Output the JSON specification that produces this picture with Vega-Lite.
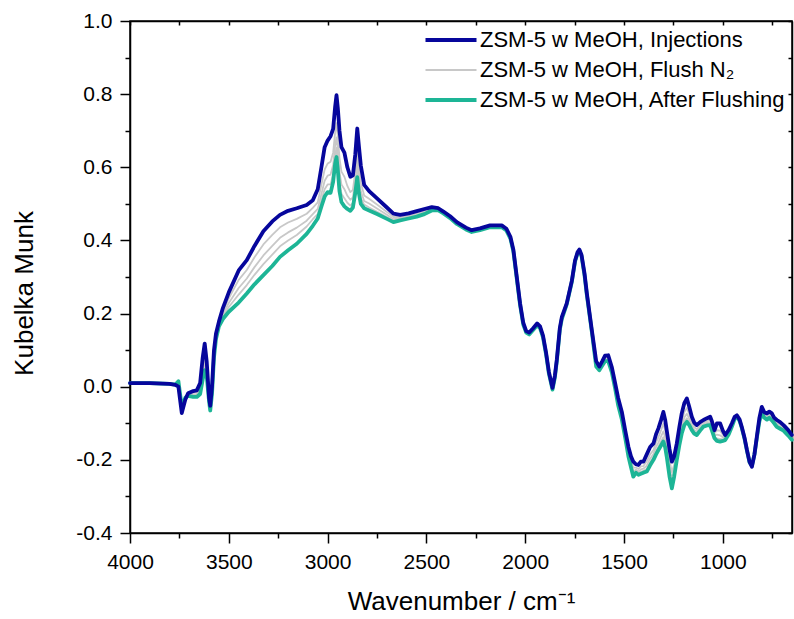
{
  "$schema": "https://vega.github.io/schema/vega-lite/v6.json",
  "width": 662,
  "height": 512,
  "autosize": "none",
  "padding": {"left": 130, "top": 21, "right": 2, "bottom": 86},
  "background": "white",
  "config": {
    "view": {"stroke": "black", "strokeWidth": 1.5},
    "font": "Liberation Sans",
    "axis": {"grid": false, "domainColor": "black", "tickColor": "black", "domainWidth": 1.5, "tickWidth": 1.5, "labelColor": "black", "titleColor": "black", "labelFont": "Liberation Sans", "titleFont": "Liberation Sans"}
  },
  "datasets": {
    "ftir": [
      {"w": 4000, "inj": 0.010, "g1": 0.010, "g2": 0.010, "g3": 0.010, "aft": 0.010},
      {"w": 3900, "inj": 0.010, "g1": 0.010, "g2": 0.010, "g3": 0.010, "aft": 0.010},
      {"w": 3800, "inj": 0.008, "g1": 0.008, "g2": 0.008, "g3": 0.008, "aft": 0.008},
      {"w": 3770, "inj": 0.005, "g1": 0.005, "g2": 0.006, "g3": 0.006, "aft": 0.006},
      {"w": 3755, "inj": 0.000, "g1": 0.005, "g2": 0.009, "g3": 0.012, "aft": 0.015},
      {"w": 3738, "inj": -0.072, "g1": -0.066, "g2": -0.062, "g3": -0.058, "aft": -0.055},
      {"w": 3720, "inj": -0.035, "g1": -0.033, "g2": -0.032, "g3": -0.031, "aft": -0.030},
      {"w": 3706, "inj": -0.018, "g1": -0.020, "g2": -0.022, "g3": -0.024, "aft": -0.025},
      {"w": 3680, "inj": -0.012, "g1": -0.017, "g2": -0.022, "g3": -0.025, "aft": -0.028},
      {"w": 3662, "inj": -0.010, "g1": -0.016, "g2": -0.021, "g3": -0.024, "aft": -0.028},
      {"w": 3645, "inj": 0.010, "g1": 0.000, "g2": -0.008, "g3": -0.014, "aft": -0.020},
      {"w": 3632, "inj": 0.080, "g1": 0.060, "g2": 0.044, "g3": 0.032, "aft": 0.020},
      {"w": 3622, "inj": 0.118, "g1": 0.094, "g2": 0.074, "g3": 0.060, "aft": 0.045},
      {"w": 3612, "inj": 0.070, "g1": 0.057, "g2": 0.046, "g3": 0.038, "aft": 0.030},
      {"w": 3600, "inj": -0.030, "g1": -0.033, "g2": -0.036, "g3": -0.038, "aft": -0.040},
      {"w": 3594, "inj": -0.052, "g1": -0.056, "g2": -0.060, "g3": -0.062, "aft": -0.065},
      {"w": 3585, "inj": 0.000, "g1": -0.007, "g2": -0.012, "g3": -0.016, "aft": -0.020},
      {"w": 3575, "inj": 0.100, "g1": 0.093, "g2": 0.088, "g3": 0.084, "aft": 0.080},
      {"w": 3565, "inj": 0.145, "g1": 0.140, "g2": 0.136, "g3": 0.133, "aft": 0.130},
      {"w": 3550, "inj": 0.178, "g1": 0.174, "g2": 0.171, "g3": 0.168, "aft": 0.165},
      {"w": 3530, "inj": 0.215, "g1": 0.206, "g2": 0.199, "g3": 0.193, "aft": 0.185},
      {"w": 3500, "inj": 0.258, "g1": 0.242, "g2": 0.229, "g3": 0.218, "aft": 0.205},
      {"w": 3450, "inj": 0.318, "g1": 0.292, "g2": 0.270, "g3": 0.252, "aft": 0.230},
      {"w": 3409, "inj": 0.346, "g1": 0.319, "g2": 0.296, "g3": 0.278, "aft": 0.255},
      {"w": 3370, "inj": 0.385, "g1": 0.354, "g2": 0.327, "g3": 0.306, "aft": 0.280},
      {"w": 3325, "inj": 0.425, "g1": 0.389, "g2": 0.359, "g3": 0.335, "aft": 0.305},
      {"w": 3280, "inj": 0.452, "g1": 0.415, "g2": 0.385, "g3": 0.361, "aft": 0.330},
      {"w": 3241, "inj": 0.470, "g1": 0.436, "g2": 0.407, "g3": 0.384, "aft": 0.355},
      {"w": 3200, "inj": 0.481, "g1": 0.449, "g2": 0.422, "g3": 0.400, "aft": 0.373},
      {"w": 3156, "inj": 0.488, "g1": 0.459, "g2": 0.435, "g3": 0.415, "aft": 0.391},
      {"w": 3106, "inj": 0.497, "g1": 0.473, "g2": 0.454, "g3": 0.438, "aft": 0.418},
      {"w": 3075, "inj": 0.510, "g1": 0.489, "g2": 0.472, "g3": 0.458, "aft": 0.440},
      {"w": 3050, "inj": 0.540, "g1": 0.504, "g2": 0.486, "g3": 0.472, "aft": 0.460},
      {"w": 3030, "inj": 0.605, "g1": 0.556, "g2": 0.530, "g3": 0.512, "aft": 0.495},
      {"w": 3015, "inj": 0.655, "g1": 0.594, "g2": 0.563, "g3": 0.540, "aft": 0.520},
      {"w": 3000, "inj": 0.673, "g1": 0.610, "g2": 0.577, "g3": 0.553, "aft": 0.532},
      {"w": 2985, "inj": 0.685, "g1": 0.615, "g2": 0.580, "g3": 0.553, "aft": 0.530},
      {"w": 2972, "inj": 0.705, "g1": 0.640, "g2": 0.606, "g3": 0.582, "aft": 0.560},
      {"w": 2962, "inj": 0.765, "g1": 0.695, "g2": 0.660, "g3": 0.633, "aft": 0.610},
      {"w": 2955, "inj": 0.797, "g1": 0.721, "g2": 0.682, "g3": 0.653, "aft": 0.628},
      {"w": 2948, "inj": 0.760, "g1": 0.684, "g2": 0.644, "g3": 0.616, "aft": 0.590},
      {"w": 2940, "inj": 0.700, "g1": 0.626, "g2": 0.588, "g3": 0.560, "aft": 0.535},
      {"w": 2930, "inj": 0.655, "g1": 0.588, "g2": 0.553, "g3": 0.528, "aft": 0.505},
      {"w": 2915, "inj": 0.640, "g1": 0.574, "g2": 0.540, "g3": 0.515, "aft": 0.493},
      {"w": 2900, "inj": 0.600, "g1": 0.549, "g2": 0.522, "g3": 0.503, "aft": 0.486},
      {"w": 2885, "inj": 0.574, "g1": 0.532, "g2": 0.511, "g3": 0.495, "aft": 0.481},
      {"w": 2872, "inj": 0.578, "g1": 0.538, "g2": 0.518, "g3": 0.503, "aft": 0.490},
      {"w": 2860, "inj": 0.635, "g1": 0.588, "g2": 0.564, "g3": 0.546, "aft": 0.530},
      {"w": 2850, "inj": 0.706, "g1": 0.646, "g2": 0.616, "g3": 0.593, "aft": 0.573},
      {"w": 2842, "inj": 0.660, "g1": 0.602, "g2": 0.572, "g3": 0.550, "aft": 0.530},
      {"w": 2832, "inj": 0.605, "g1": 0.558, "g2": 0.534, "g3": 0.516, "aft": 0.500},
      {"w": 2815, "inj": 0.552, "g1": 0.523, "g2": 0.508, "g3": 0.498, "aft": 0.488},
      {"w": 2790, "inj": 0.535, "g1": 0.514, "g2": 0.501, "g3": 0.490, "aft": 0.482},
      {"w": 2750, "inj": 0.515, "g1": 0.498, "g2": 0.487, "g3": 0.478, "aft": 0.472},
      {"w": 2700, "inj": 0.490, "g1": 0.478, "g2": 0.470, "g3": 0.464, "aft": 0.459},
      {"w": 2667, "inj": 0.473, "g1": 0.464, "g2": 0.458, "g3": 0.453, "aft": 0.450},
      {"w": 2633, "inj": 0.470, "g1": 0.464, "g2": 0.460, "g3": 0.457, "aft": 0.455},
      {"w": 2590, "inj": 0.474, "g1": 0.468, "g2": 0.465, "g3": 0.462, "aft": 0.460},
      {"w": 2549, "inj": 0.480, "g1": 0.474, "g2": 0.470, "g3": 0.467, "aft": 0.465},
      {"w": 2510, "inj": 0.486, "g1": 0.480, "g2": 0.477, "g3": 0.474, "aft": 0.472},
      {"w": 2473, "inj": 0.491, "g1": 0.487, "g2": 0.485, "g3": 0.483, "aft": 0.482},
      {"w": 2440, "inj": 0.488, "g1": 0.486, "g2": 0.484, "g3": 0.483, "aft": 0.482},
      {"w": 2414, "inj": 0.479, "g1": 0.477, "g2": 0.476, "g3": 0.475, "aft": 0.474},
      {"w": 2380, "inj": 0.466, "g1": 0.464, "g2": 0.463, "g3": 0.462, "aft": 0.461},
      {"w": 2346, "inj": 0.450, "g1": 0.448, "g2": 0.447, "g3": 0.446, "aft": 0.445},
      {"w": 2300, "inj": 0.435, "g1": 0.433, "g2": 0.432, "g3": 0.431, "aft": 0.430},
      {"w": 2271, "inj": 0.428, "g1": 0.426, "g2": 0.425, "g3": 0.424, "aft": 0.423},
      {"w": 2229, "inj": 0.433, "g1": 0.431, "g2": 0.430, "g3": 0.429, "aft": 0.428},
      {"w": 2178, "inj": 0.441, "g1": 0.439, "g2": 0.438, "g3": 0.437, "aft": 0.436},
      {"w": 2119, "inj": 0.441, "g1": 0.439, "g2": 0.438, "g3": 0.437, "aft": 0.436},
      {"w": 2095, "inj": 0.432, "g1": 0.430, "g2": 0.429, "g3": 0.428, "aft": 0.427},
      {"w": 2075, "inj": 0.410, "g1": 0.408, "g2": 0.407, "g3": 0.406, "aft": 0.405},
      {"w": 2060, "inj": 0.375, "g1": 0.373, "g2": 0.372, "g3": 0.371, "aft": 0.370},
      {"w": 2045, "inj": 0.310, "g1": 0.308, "g2": 0.307, "g3": 0.306, "aft": 0.305},
      {"w": 2026, "inj": 0.228, "g1": 0.226, "g2": 0.225, "g3": 0.224, "aft": 0.223},
      {"w": 2010, "inj": 0.175, "g1": 0.173, "g2": 0.172, "g3": 0.171, "aft": 0.170},
      {"w": 1995, "inj": 0.152, "g1": 0.150, "g2": 0.149, "g3": 0.149, "aft": 0.148},
      {"w": 1980, "inj": 0.148, "g1": 0.146, "g2": 0.145, "g3": 0.144, "aft": 0.143},
      {"w": 1960, "inj": 0.160, "g1": 0.158, "g2": 0.157, "g3": 0.156, "aft": 0.155},
      {"w": 1940, "inj": 0.173, "g1": 0.171, "g2": 0.170, "g3": 0.169, "aft": 0.168},
      {"w": 1925, "inj": 0.165, "g1": 0.163, "g2": 0.162, "g3": 0.161, "aft": 0.160},
      {"w": 1910, "inj": 0.140, "g1": 0.138, "g2": 0.137, "g3": 0.136, "aft": 0.135},
      {"w": 1895, "inj": 0.095, "g1": 0.093, "g2": 0.092, "g3": 0.091, "aft": 0.090},
      {"w": 1880, "inj": 0.040, "g1": 0.038, "g2": 0.037, "g3": 0.036, "aft": 0.035},
      {"w": 1862, "inj": -0.003, "g1": -0.005, "g2": -0.006, "g3": -0.007, "aft": -0.008},
      {"w": 1850, "inj": 0.030, "g1": 0.028, "g2": 0.027, "g3": 0.026, "aft": 0.025},
      {"w": 1840, "inj": 0.075, "g1": 0.073, "g2": 0.072, "g3": 0.071, "aft": 0.070},
      {"w": 1825, "inj": 0.160, "g1": 0.158, "g2": 0.157, "g3": 0.156, "aft": 0.155},
      {"w": 1815, "inj": 0.190, "g1": 0.188, "g2": 0.187, "g3": 0.186, "aft": 0.185},
      {"w": 1790, "inj": 0.228, "g1": 0.227, "g2": 0.226, "g3": 0.226, "aft": 0.225},
      {"w": 1764, "inj": 0.290, "g1": 0.289, "g2": 0.288, "g3": 0.288, "aft": 0.287},
      {"w": 1748, "inj": 0.345, "g1": 0.344, "g2": 0.343, "g3": 0.343, "aft": 0.342},
      {"w": 1735, "inj": 0.368, "g1": 0.367, "g2": 0.366, "g3": 0.366, "aft": 0.365},
      {"w": 1726, "inj": 0.375, "g1": 0.374, "g2": 0.373, "g3": 0.373, "aft": 0.372},
      {"w": 1715, "inj": 0.360, "g1": 0.359, "g2": 0.358, "g3": 0.358, "aft": 0.357},
      {"w": 1700, "inj": 0.310, "g1": 0.308, "g2": 0.307, "g3": 0.306, "aft": 0.305},
      {"w": 1688, "inj": 0.255, "g1": 0.253, "g2": 0.252, "g3": 0.251, "aft": 0.250},
      {"w": 1663, "inj": 0.155, "g1": 0.153, "g2": 0.152, "g3": 0.151, "aft": 0.150},
      {"w": 1641, "inj": 0.070, "g1": 0.064, "g2": 0.060, "g3": 0.057, "aft": 0.055},
      {"w": 1625, "inj": 0.055, "g1": 0.051, "g2": 0.048, "g3": 0.046, "aft": 0.045},
      {"w": 1610, "inj": 0.070, "g1": 0.065, "g2": 0.062, "g3": 0.060, "aft": 0.058},
      {"w": 1596, "inj": 0.085, "g1": 0.079, "g2": 0.075, "g3": 0.072, "aft": 0.070},
      {"w": 1580, "inj": 0.086, "g1": 0.080, "g2": 0.076, "g3": 0.072, "aft": 0.070},
      {"w": 1562, "inj": 0.054, "g1": 0.048, "g2": 0.045, "g3": 0.042, "aft": 0.040},
      {"w": 1545, "inj": 0.010, "g1": 0.004, "g2": 0.000, "g3": -0.003, "aft": -0.005},
      {"w": 1530, "inj": -0.030, "g1": -0.038, "g2": -0.043, "g3": -0.047, "aft": -0.050},
      {"w": 1511, "inj": -0.069, "g1": -0.077, "g2": -0.083, "g3": -0.087, "aft": -0.090},
      {"w": 1494, "inj": -0.119, "g1": -0.127, "g2": -0.133, "g3": -0.137, "aft": -0.140},
      {"w": 1478, "inj": -0.164, "g1": -0.174, "g2": -0.181, "g3": -0.186, "aft": -0.190},
      {"w": 1465, "inj": -0.190, "g1": -0.202, "g2": -0.210, "g3": -0.216, "aft": -0.220},
      {"w": 1453, "inj": -0.205, "g1": -0.221, "g2": -0.232, "g3": -0.240, "aft": -0.246},
      {"w": 1440, "inj": -0.212, "g1": -0.221, "g2": -0.227, "g3": -0.232, "aft": -0.235},
      {"w": 1427, "inj": -0.214, "g1": -0.225, "g2": -0.232, "g3": -0.237, "aft": -0.241},
      {"w": 1415, "inj": -0.205, "g1": -0.218, "g2": -0.226, "g3": -0.233, "aft": -0.238},
      {"w": 1402, "inj": -0.205, "g1": -0.217, "g2": -0.224, "g3": -0.230, "aft": -0.235},
      {"w": 1385, "inj": -0.185, "g1": -0.204, "g2": -0.216, "g3": -0.225, "aft": -0.232},
      {"w": 1368, "inj": -0.165, "g1": -0.185, "g2": -0.197, "g3": -0.208, "aft": -0.215},
      {"w": 1351, "inj": -0.155, "g1": -0.173, "g2": -0.184, "g3": -0.193, "aft": -0.200},
      {"w": 1338, "inj": -0.130, "g1": -0.152, "g2": -0.165, "g3": -0.176, "aft": -0.185},
      {"w": 1326, "inj": -0.114, "g1": -0.138, "g2": -0.152, "g3": -0.164, "aft": -0.173},
      {"w": 1312, "inj": -0.090, "g1": -0.118, "g2": -0.135, "g3": -0.149, "aft": -0.160},
      {"w": 1301, "inj": -0.069, "g1": -0.101, "g2": -0.122, "g3": -0.138, "aft": -0.150},
      {"w": 1292, "inj": -0.090, "g1": -0.120, "g2": -0.139, "g3": -0.154, "aft": -0.165},
      {"w": 1284, "inj": -0.119, "g1": -0.148, "g2": -0.166, "g3": -0.180, "aft": -0.191},
      {"w": 1270, "inj": -0.170, "g1": -0.200, "g2": -0.219, "g3": -0.234, "aft": -0.245},
      {"w": 1258, "inj": -0.205, "g1": -0.234, "g2": -0.252, "g3": -0.267, "aft": -0.278},
      {"w": 1246, "inj": -0.190, "g1": -0.212, "g2": -0.226, "g3": -0.237, "aft": -0.245},
      {"w": 1233, "inj": -0.155, "g1": -0.173, "g2": -0.184, "g3": -0.193, "aft": -0.200},
      {"w": 1220, "inj": -0.110, "g1": -0.130, "g2": -0.143, "g3": -0.153, "aft": -0.160},
      {"w": 1208, "inj": -0.073, "g1": -0.095, "g2": -0.109, "g3": -0.120, "aft": -0.128},
      {"w": 1195, "inj": -0.045, "g1": -0.069, "g2": -0.084, "g3": -0.096, "aft": -0.105},
      {"w": 1182, "inj": -0.032, "g1": -0.058, "g2": -0.074, "g3": -0.086, "aft": -0.096},
      {"w": 1170, "inj": -0.055, "g1": -0.075, "g2": -0.087, "g3": -0.097, "aft": -0.105},
      {"w": 1157, "inj": -0.082, "g1": -0.097, "g2": -0.106, "g3": -0.113, "aft": -0.119},
      {"w": 1145, "inj": -0.098, "g1": -0.110, "g2": -0.118, "g3": -0.124, "aft": -0.128},
      {"w": 1132, "inj": -0.105, "g1": -0.116, "g2": -0.123, "g3": -0.128, "aft": -0.132},
      {"w": 1115, "inj": -0.097, "g1": -0.106, "g2": -0.112, "g3": -0.117, "aft": -0.120},
      {"w": 1098, "inj": -0.091, "g1": -0.098, "g2": -0.103, "g3": -0.106, "aft": -0.109},
      {"w": 1080, "inj": -0.086, "g1": -0.094, "g2": -0.099, "g3": -0.103, "aft": -0.106},
      {"w": 1064, "inj": -0.082, "g1": -0.091, "g2": -0.097, "g3": -0.102, "aft": -0.105},
      {"w": 1055, "inj": -0.095, "g1": -0.105, "g2": -0.111, "g3": -0.116, "aft": -0.120},
      {"w": 1042, "inj": -0.119, "g1": -0.128, "g2": -0.133, "g3": -0.138, "aft": -0.141},
      {"w": 1030, "inj": -0.100, "g1": -0.119, "g2": -0.131, "g3": -0.141, "aft": -0.148},
      {"w": 1014, "inj": -0.100, "g1": -0.120, "g2": -0.133, "g3": -0.143, "aft": -0.150},
      {"w": 1000, "inj": -0.120, "g1": -0.131, "g2": -0.138, "g3": -0.144, "aft": -0.148},
      {"w": 988, "inj": -0.132, "g1": -0.138, "g2": -0.141, "g3": -0.144, "aft": -0.146},
      {"w": 970, "inj": -0.118, "g1": -0.123, "g2": -0.126, "g3": -0.128, "aft": -0.130},
      {"w": 954, "inj": -0.100, "g1": -0.104, "g2": -0.106, "g3": -0.108, "aft": -0.109},
      {"w": 940, "inj": -0.082, "g1": -0.084, "g2": -0.086, "g3": -0.087, "aft": -0.088},
      {"w": 929, "inj": -0.078, "g1": -0.080, "g2": -0.081, "g3": -0.081, "aft": -0.082},
      {"w": 915, "inj": -0.090, "g1": -0.092, "g2": -0.093, "g3": -0.093, "aft": -0.094},
      {"w": 904, "inj": -0.110, "g1": -0.111, "g2": -0.112, "g3": -0.112, "aft": -0.113},
      {"w": 890, "inj": -0.140, "g1": -0.141, "g2": -0.142, "g3": -0.142, "aft": -0.143},
      {"w": 878, "inj": -0.173, "g1": -0.174, "g2": -0.174, "g3": -0.175, "aft": -0.175},
      {"w": 865, "inj": -0.205, "g1": -0.206, "g2": -0.206, "g3": -0.207, "aft": -0.207},
      {"w": 853, "inj": -0.219, "g1": -0.218, "g2": -0.217, "g3": -0.217, "aft": -0.216},
      {"w": 840, "inj": -0.185, "g1": -0.185, "g2": -0.185, "g3": -0.185, "aft": -0.185},
      {"w": 828, "inj": -0.137, "g1": -0.138, "g2": -0.139, "g3": -0.139, "aft": -0.140},
      {"w": 815, "inj": -0.085, "g1": -0.089, "g2": -0.091, "g3": -0.093, "aft": -0.095},
      {"w": 803, "inj": -0.055, "g1": -0.062, "g2": -0.067, "g3": -0.070, "aft": -0.073},
      {"w": 790, "inj": -0.070, "g1": -0.076, "g2": -0.080, "g3": -0.083, "aft": -0.085},
      {"w": 777, "inj": -0.073, "g1": -0.080, "g2": -0.084, "g3": -0.087, "aft": -0.090},
      {"w": 765, "inj": -0.068, "g1": -0.075, "g2": -0.079, "g3": -0.082, "aft": -0.085},
      {"w": 752, "inj": -0.073, "g1": -0.081, "g2": -0.085, "g3": -0.089, "aft": -0.092},
      {"w": 740, "inj": -0.085, "g1": -0.091, "g2": -0.095, "g3": -0.098, "aft": -0.100},
      {"w": 727, "inj": -0.091, "g1": -0.099, "g2": -0.103, "g3": -0.107, "aft": -0.110},
      {"w": 710, "inj": -0.097, "g1": -0.104, "g2": -0.109, "g3": -0.112, "aft": -0.115},
      {"w": 693, "inj": -0.105, "g1": -0.111, "g2": -0.115, "g3": -0.118, "aft": -0.120},
      {"w": 670, "inj": -0.118, "g1": -0.124, "g2": -0.128, "g3": -0.131, "aft": -0.133},
      {"w": 651, "inj": -0.132, "g1": -0.137, "g2": -0.140, "g3": -0.143, "aft": -0.145}
    ]
  },
  "data": {"name": "ftir"},
  "layer": [
    {
      "transform": [{"fold": ["g1", "g2", "g3"], "as": ["run", "km"]}],
      "mark": {"type": "line", "strokeWidth": 1.8, "strokeJoin": "round", "strokeCap": "round"},
      "encoding": {
        "x": {"field": "w", "type": "quantitative", "scale": {"domain": [650, 4000], "reverse": true, "nice": false, "zero": false}, "axis": null},
        "y": {"field": "km", "type": "quantitative", "scale": {"domain": [-0.4, 1.0], "nice": false, "zero": false}, "axis": null},
        "detail": {"field": "run"},
        "color": {
          "datum": "ZSM-5 w MeOH, Flush N₂",
          "type": "nominal",
          "scale": {"domain": ["ZSM-5 w MeOH, Injections", "ZSM-5 w MeOH, Flush N₂", "ZSM-5 w MeOH, After Flushing"], "range": ["#06069c", "#c8c8c8", "#1db596"]},
          "legend": {
            "orient": "none",
            "legendX": 310,
            "legendY": 8,
            "title": null,
            "symbolType": "stroke",
            "symbolSize": 2601,
            "symbolStrokeWidth": 4,
            "labelFontSize": 22,
            "labelFont": "Liberation Sans",
            "labelColor": "black",
            "labelOffset": 18,
            "rowPadding": 8,
            "padding": 0,
            "labelLimit": 400,
            "encode": {
              "symbols": {
                "update": {
                  "strokeWidth": {"signal": "datum.value === 'ZSM-5 w MeOH, Flush N₂' ? 1.8 : 4"}
                }
              }
            }
          }
        }
      }
    },
    {
      "mark": {"type": "line", "strokeWidth": 3.8, "strokeJoin": "round", "strokeCap": "round"},
      "encoding": {
        "x": {"field": "w", "type": "quantitative", "axis": {"orient": "top", "values": [4000, 3750, 3500, 3250, 3000, 2750, 2500, 2250, 2000, 1750, 1500, 1250, 1000, 750], "labels": false, "tickSize": -4, "title": null}},
        "y": {"field": "aft", "type": "quantitative", "axis": {"orient": "right", "values": [-0.4, -0.3, -0.2, -0.1, 0, 0.1, 0.2, 0.3, 0.4, 0.5, 0.6, 0.7, 0.8, 0.9, 1.0], "labels": false, "tickSize": -4, "title": null}},
        "color": {"datum": "ZSM-5 w MeOH, After Flushing", "type": "nominal"}
      }
    },
    {
      "mark": {"type": "line", "strokeWidth": 3.8, "strokeJoin": "round", "strokeCap": "round"},
      "encoding": {
        "x": {
          "field": "w",
          "type": "quantitative",
          "axis": {
            "orient": "bottom",
            "values": [4000, 3750, 3500, 3250, 3000, 2750, 2500, 2250, 2000, 1750, 1500, 1250, 1000, 750],
            "labelExpr": "datum.value % 500 === 0 ? format(datum.value, 'd') : ''",
            "tickSize": {"condition": {"test": "datum.value % 500 === 0", "value": 10}, "value": 5},
            "labelFontSize": 21,
            "labelPadding": 8,
            "labelFlush": false,
            "labelOverlap": false,
            "title": "Wavenumber / cm⁻¹",
            "titleFontSize": 26,
            "titleFontWeight": "normal",
            "titlePadding": 16
          }
        },
        "y": {
          "field": "inj",
          "type": "quantitative",
          "axis": {
            "orient": "left",
            "values": [-0.4, -0.3, -0.2, -0.1, 0, 0.1, 0.2, 0.3, 0.4, 0.5, 0.6, 0.7, 0.8, 0.9, 1.0],
            "labelExpr": "round(datum.value * 10) % 2 === 0 ? (datum.value < 0 ? '-' : '') + format(abs(datum.value), '.1f') : ''",
            "tickSize": {"condition": {"test": "round(datum.value * 10) % 2 === 0", "value": 10}, "value": 5},
            "labelFontSize": 21,
            "labelPadding": 8,
            "labelFlush": false,
            "labelOverlap": false,
            "title": "Kubelka Munk",
            "titleFontSize": 26,
            "titleFontWeight": "normal",
            "titlePadding": 38,
            "titleY": 272
          }
        },
        "color": {"datum": "ZSM-5 w MeOH, Injections", "type": "nominal"}
      }
    }
  ],
  "resolve": {"axis": {"x": "independent", "y": "independent"}}
}
